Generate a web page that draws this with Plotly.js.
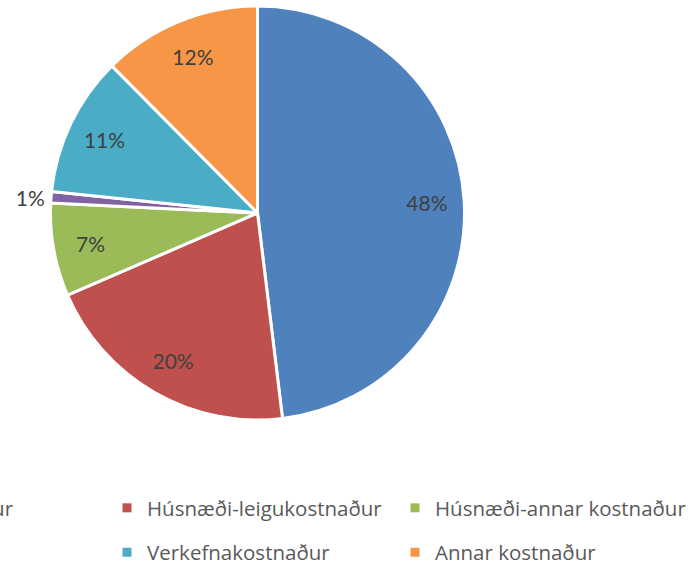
<!DOCTYPE html>
<html>
<head>
<meta charset="utf-8">
<script src="https://cdn.plot.ly/plotly-3.0.1.min.js"></script>
<style>html,body{margin:0;padding:0;background:#fff}#chart{width:690px;height:567px}</style>
</head>
<body>
<div id="chart"></div>
<script>
const categories = ["Launakostnaður", "Húsnæði-leigukostnaður", "Húsnæði-annar kostnaður", "Tækjakaup", "Verkefnakostnaður", "Annar kostnaður"];
const values = [48.0, 20.4, 7.25, 0.9, 10.9, 12.4];
const colors = ["#4F81BD", "#C0504D", "#9BBB59", "#8064A2", "#4BACC6", "#F79646"];
const textPositions = ["inside", "inside", "inside", "outside", "inside", "inside"];

// legend grid: column per item (0,1,2) and row (0,1)
const legendCols = [0, 1, 2, 0, 1, 2];
const legendRows = [0, 0, 0, 1, 1, 1];
const colX = [-183, 107, 395];   // px of legend box left
const rowY = [508, 552.5];       // px centre of row (from top)

const W = 690, H = 567;
const pieDomain = {x: [(257.5 - 207) / W, (257.5 + 207) / W], y: [(H - 213 - 207) / H, (H - 213 + 207) / H]};
const labelFont = {family: "Lato, Carlito, sans-serif", size: 21, color: "#404040"};

const traces = [{
  type: "pie",
  labels: categories,
  values: values,
  sort: false,
  direction: "clockwise",
  rotation: 0,
  marker: {colors: colors, line: {color: "#ffffff", width: 3}},
  textinfo: "none",
  domain: pieDomain,
  showlegend: false,
  hoverinfo: "label+percent"
}, {
  // transparent ring on top that carries the percentage labels (placed in the outer ring like the original)
  type: "pie",
  labels: categories,
  values: values,
  sort: false,
  direction: "clockwise",
  rotation: 0,
  hole: 0.64,
  marker: {colors: categories.map(() => "rgba(0,0,0,0)"), line: {width: 0}},
  texttemplate: "%{percent:.0%}",
  textposition: textPositions,
  insidetextorientation: "horizontal",
  textfont: labelFont,
  outsidetextfont: labelFont,
  domain: pieDomain,
  showlegend: false,
  hoverinfo: "skip"
}];

const layout = {
  width: W, height: H,
  margin: {l: 0, r: 0, t: 0, b: 0, autoexpand: false},
  paper_bgcolor: "#ffffff",
  plot_bgcolor: "#ffffff",
  xaxis: {visible: false, domain: [0, 0.001]},
  yaxis: {visible: false, domain: [0, 0.001]},
  showlegend: true
};

categories.forEach((c, i) => {
  const key = i === 0 ? "legend" : "legend" + (i + 1);
  traces.push({
    type: "scatter", mode: "markers",
    x: [null], y: [null],
    name: c,
    marker: {symbol: "square", size: 9, color: colors[i]},
    legend: key,
    hoverinfo: "skip"
  });
  layout[key] = {
    x: colX[legendCols[i]] / W,
    xanchor: "left",
    y: (H - rowY[legendRows[i]]) / H,
    yanchor: "middle",
    orientation: "v",
    bgcolor: "rgba(0,0,0,0)",
    borderwidth: 0,
    font: {family: "'Open Sans', 'Noto Sans', sans-serif", size: 20.5, color: "#595959"}
  };
});

Plotly.newPlot("chart", traces, layout, {displayModeBar: false, staticPlot: true});
</script>
</body>
</html>
